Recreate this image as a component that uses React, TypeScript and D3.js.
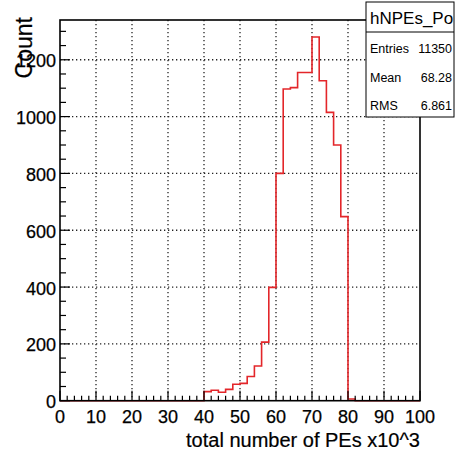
import React from 'react';
import * as d3 from 'd3';

// histogram hNPEs_Po: bin low edges (x10^3 PEs) and counts
const binLows = [40, 42, 44, 46, 48, 50, 52, 54, 56, 58, 60, 62, 64, 66, 68, 70, 72, 74, 76, 78, 80];
const counts = [32, 37, 30, 40, 58, 61, 85, 122, 206, 399, 800, 1097, 1102, 1155, 1155, 1280, 1126, 1015, 900, 648, 6];
const binWidth = 2;

const xTicks = [0, 10, 20, 30, 40, 50, 60, 70, 80, 90, 100];
const yTicks = [0, 200, 400, 600, 800, 1000, 1200];

const statLabels = ['Entries', 'Mean', 'RMS'];
const statValues = ['11350', '68.28', '6.861'];

const W = 455;
const H = 453;
const font = '"Liberation Sans", Arial, Helvetica, sans-serif';

export default function App() {
  const left = 60, right = 420, top = 20, bottom = 400.7;

  const x = d3.scaleLinear().domain([0, 100]).range([left, right]);
  const y = d3.scaleLinear().domain([0, 1340]).range([bottom, top]);

  // step outline over the whole axis range
  const pts: [number, number][] = [[0, 0], [binLows[0], 0]];
  binLows.forEach((lo, i) => {
    pts.push([lo, counts[i]]);
    pts.push([lo + binWidth, counts[i]]);
  });
  pts.push([binLows[binLows.length - 1] + binWidth, 0]);
  pts.push([100, 0]);
  const line = d3.line<[number, number]>().x((d) => x(d[0])).y((d) => y(d[1]));

  const xMinor = d3.range(0, 101, 2).filter((v) => v % 10 !== 0);
  const yMinor = d3.range(0, 1341, 50).filter((v) => v % 200 !== 0);

  const boxX = 366, boxY = 2, boxR = 454, boxB = 117;

  return (
    <svg
      width={W}
      height={H}
      style={{ position: 'absolute', left: 0, top: 0, background: '#fff' }}
      fontFamily={font}
    >
      <rect x={0} y={0} width={W} height={H} fill="#fff" />

      {/* grid */}
      <g stroke="#222" strokeWidth={1.3} strokeDasharray="1.3 2.7">
        {xTicks.slice(1, -1).map((t) => (
          <line key={'gx' + t} x1={x(t)} x2={x(t)} y1={top} y2={bottom} />
        ))}
        {yTicks.slice(1).map((t) => (
          <line key={'gy' + t} x1={left} x2={right} y1={y(t)} y2={y(t)} />
        ))}
      </g>

      {/* histogram */}
      <path d={line(pts) || ''} fill="none" stroke="#e3262a" strokeWidth={1.6} />

      {/* frame */}
      <rect x={left} y={top} width={right - left} height={bottom - top} fill="none" stroke="#000" strokeWidth={1.6} />

      {/* ticks */}
      <g stroke="#000" strokeWidth={1.2}>
        {xTicks.map((t) => (
          <line key={'xt' + t} x1={x(t)} x2={x(t)} y1={bottom} y2={bottom - 10} />
        ))}
        {xMinor.map((t) => (
          <line key={'xm' + t} x1={x(t)} x2={x(t)} y1={bottom} y2={bottom - 5} />
        ))}
        {yTicks.map((t) => (
          <line key={'yt' + t} x1={left} x2={left + 10} y1={y(t)} y2={y(t)} />
        ))}
        {yMinor.map((t) => (
          <line key={'ym' + t} x1={left} x2={left + 6} y1={y(t)} y2={y(t)} />
        ))}
      </g>

      {/* tick labels */}
      <g fontSize={18} fill="#000" stroke="#000" strokeWidth={0.25}>
        {xTicks.map((t) => (
          <text key={'xl' + t} x={x(t)} y={423} textAnchor="middle">
            {t}
          </text>
        ))}
        {yTicks.map((t) => (
          <text key={'yl' + t} x={56} y={y(t) + 7.5} textAnchor="end">
            {t}
          </text>
        ))}
      </g>

      {/* axis titles */}
      <text x={right} y={447} textAnchor="end" fontSize={20} stroke="#000" strokeWidth={0.2}>
        total number of PEs x10^3
      </text>
      <text transform="translate(32,17) rotate(-90)" textAnchor="end" fontSize={23} stroke="#000" strokeWidth={0.2}>
        Count
      </text>

      {/* stats box */}
      <rect x={boxX} y={boxY} width={boxR - boxX} height={boxB - boxY} fill="#fff" stroke="#000" strokeWidth={1} />
      <line x1={boxX} x2={boxR} y1={32} y2={32} stroke="#000" strokeWidth={1} />
      <text x={370} y={24} fontSize={17}>
        hNPEs_Po
      </text>
      {statLabels.map((s, i) => (
        <g key={s} fontSize={12.5}>
          <text x={370} y={53 + i * 28.5}>
            {s}
          </text>
          <text x={452} y={53 + i * 28.5} textAnchor="end">
            {statValues[i]}
          </text>
        </g>
      ))}
    </svg>
  );
}
